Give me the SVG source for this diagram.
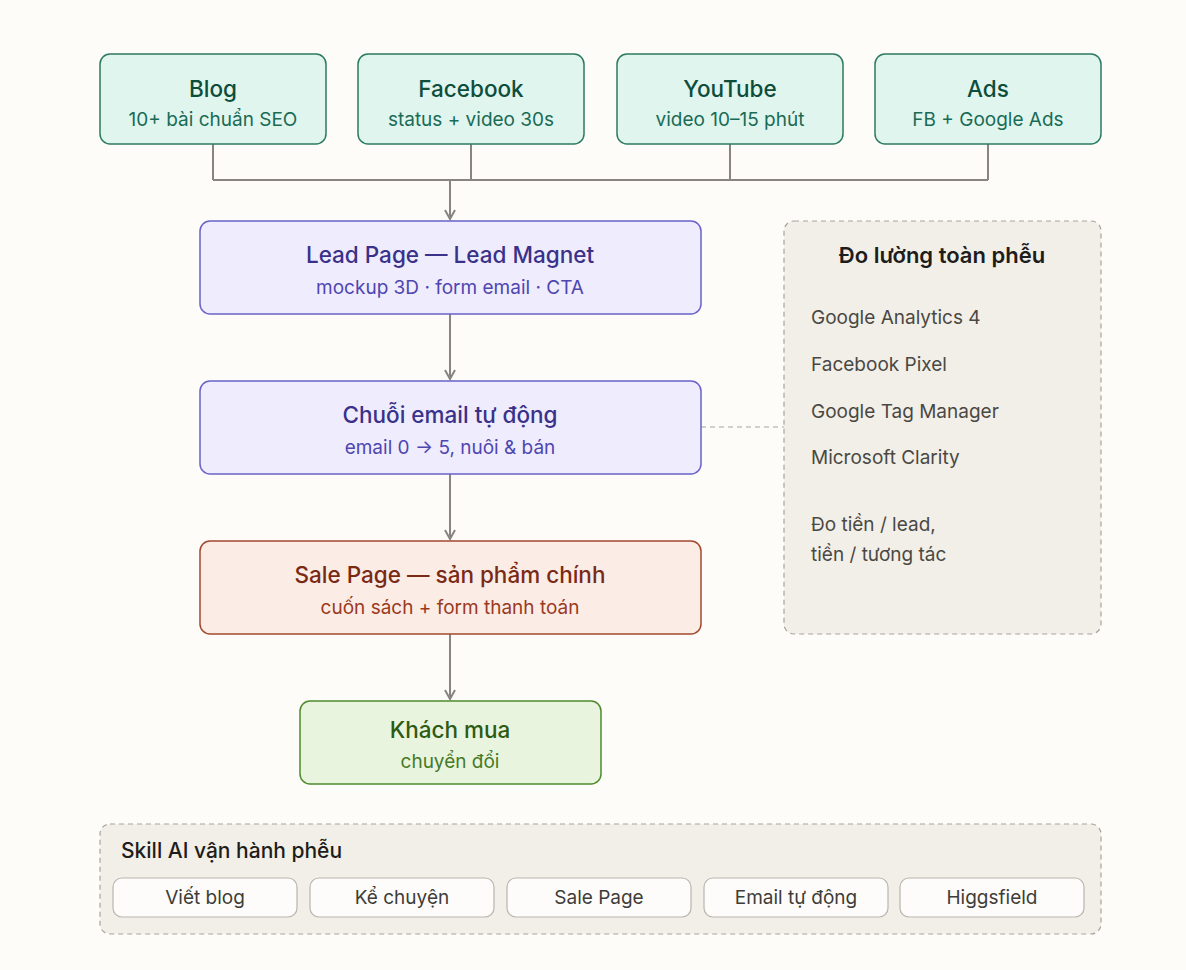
<svg xmlns="http://www.w3.org/2000/svg" width="1186" height="970" viewBox="0 0 1186 970">
<defs>
<marker id="ah" viewBox="0 0 12 12" refX="10" refY="6" markerWidth="12" markerHeight="12" markerUnits="userSpaceOnUse" orient="auto"><path d="M1,1 L10,6 L1,11" fill="none" stroke="#888580" stroke-width="2"/></marker>
<style>
text{font-family:Inter,"Noto Sans",sans-serif;text-anchor:middle}
.t{font-size:22.5px;font-weight:500}
.s{font-size:19px}
.src rect{fill:#e0f5ee;stroke:#2c7a62;stroke-width:1.5}
.src .t{fill:#0d4d3c}.src .s{fill:#1a6b55}
.pur rect{fill:#eeecfd;stroke:#6a62c8;stroke-width:1.5}
.pur .t{fill:#3a318a}.pur .s{fill:#4f46b0}
.sal rect{fill:#fbece6;stroke:#a2482e;stroke-width:1.5}
.sal .t{fill:#7a2a14}.sal .s{fill:#9a3a20}
.buy rect{fill:#e9f4df;stroke:#4e8a2e;stroke-width:1.5}
.buy .t{fill:#2e5a12}.buy .s{fill:#467a26}
.panel{fill:#f2efe8;stroke:#a7a49c;stroke-width:1.2;stroke-dasharray:5 4}
.li{font-size:19px;fill:#4a4843;text-anchor:start}
.pill rect{fill:#fdfcfa;stroke:#b8b5ae;stroke-width:1.2}
.pill text{font-size:19px;fill:#3e3c38}
.c{fill:none;stroke:#888580;stroke-width:2}
</style>
</defs>
<rect width="1186" height="970" fill="#fdfcf9"/>
<g id="connectors">
<path class="c" d="M213,144 V180 M471,144 V180 M730,144 V180 M988,144 V180 M213,180 H988"/>
<path class="c" d="M450,180 V219" marker-end="url(#ah)"/>
<path class="c" d="M450,314 V379" marker-end="url(#ah)"/>
<path class="c" d="M450,474 V539" marker-end="url(#ah)"/>
<path class="c" d="M450,634 V699" marker-end="url(#ah)"/>
<path d="M701,427 H784" fill="none" stroke="#a7a49c" stroke-width="1.2" stroke-dasharray="5 4"/>
</g>
<g id="blog" class="src"><rect x="100" y="54" width="226" height="90" rx="10"/><text class="t" x="213" y="97">Blog</text><text class="s" x="213" y="126">10+ bài chuẩn SEO</text></g>
<g id="facebook" class="src"><rect x="358" y="54" width="226" height="90" rx="10"/><text class="t" x="471" y="97">Facebook</text><text class="s" x="471" y="126">status + video 30s</text></g>
<g id="youtube" class="src"><rect x="617" y="54" width="226" height="90" rx="10"/><text class="t" x="730" y="97">YouTube</text><text class="s" x="730" y="126">video 10–15 phút</text></g>
<g id="ads" class="src"><rect x="875" y="54" width="226" height="90" rx="10"/><text class="t" x="988" y="97">Ads</text><text class="s" x="988" y="126">FB + Google Ads</text></g>
<g id="lead" class="pur"><rect x="200" y="221" width="501" height="93" rx="10"/><text class="t" x="450" y="263">Lead Page — Lead Magnet</text><text class="s" x="450" y="294">mockup 3D · form email · CTA</text></g>
<g id="email" class="pur"><rect x="200" y="381" width="501" height="93" rx="10"/><text class="t" x="450" y="423">Chuỗi email tự động</text><text class="s" x="450" y="454">email 0 → 5, nuôi &amp; bán</text></g>
<g id="sale" class="sal"><rect x="200" y="541" width="501" height="93" rx="10"/><text class="t" x="450" y="583">Sale Page — sản phẩm chính</text><text class="s" x="450" y="614">cuốn sách + form thanh toán</text></g>
<g id="buyer" class="buy"><rect x="300" y="701" width="301" height="83" rx="10"/><text class="t" x="450" y="738">Khách mua</text><text class="s" x="450" y="768">chuyển đổi</text></g>
<g id="measure">
<rect class="panel" x="784" y="221" width="317" height="413" rx="10"/>
<text x="942" y="263" style="font-size:22px;font-weight:600;fill:#1e1d1b">Đo lường toàn phễu</text>
<text class="li" x="811" y="324">Google Analytics 4</text>
<text class="li" x="811" y="371">Facebook Pixel</text>
<text class="li" x="811" y="418">Google Tag Manager</text>
<text class="li" x="811" y="464">Microsoft Clarity</text>
<text class="li" x="811" y="531">Đo tiền / lead,</text>
<text class="li" x="811" y="561">tiền / tương tác</text>
</g>
<g id="skills">
<rect class="panel" x="100" y="824" width="1001" height="110" rx="10"/>
<text x="121" y="858" style="font-size:21px;font-weight:500;fill:#1e1d1b;text-anchor:start">Skill AI vận hành phễu</text>
<g class="pill" id="p1"><rect x="113" y="878" width="184" height="39" rx="9"/><text x="205" y="904">Viết blog</text></g>
<g class="pill" id="p2"><rect x="310" y="878" width="184" height="39" rx="9"/><text x="402" y="904">Kể chuyện</text></g>
<g class="pill" id="p3"><rect x="507" y="878" width="184" height="39" rx="9"/><text x="599" y="904">Sale Page</text></g>
<g class="pill" id="p4"><rect x="704" y="878" width="184" height="39" rx="9"/><text x="796" y="904">Email tự động</text></g>
<g class="pill" id="p5"><rect x="900" y="878" width="184" height="39" rx="9"/><text x="992" y="904">Higgsfield</text></g>
</g>
</svg>
